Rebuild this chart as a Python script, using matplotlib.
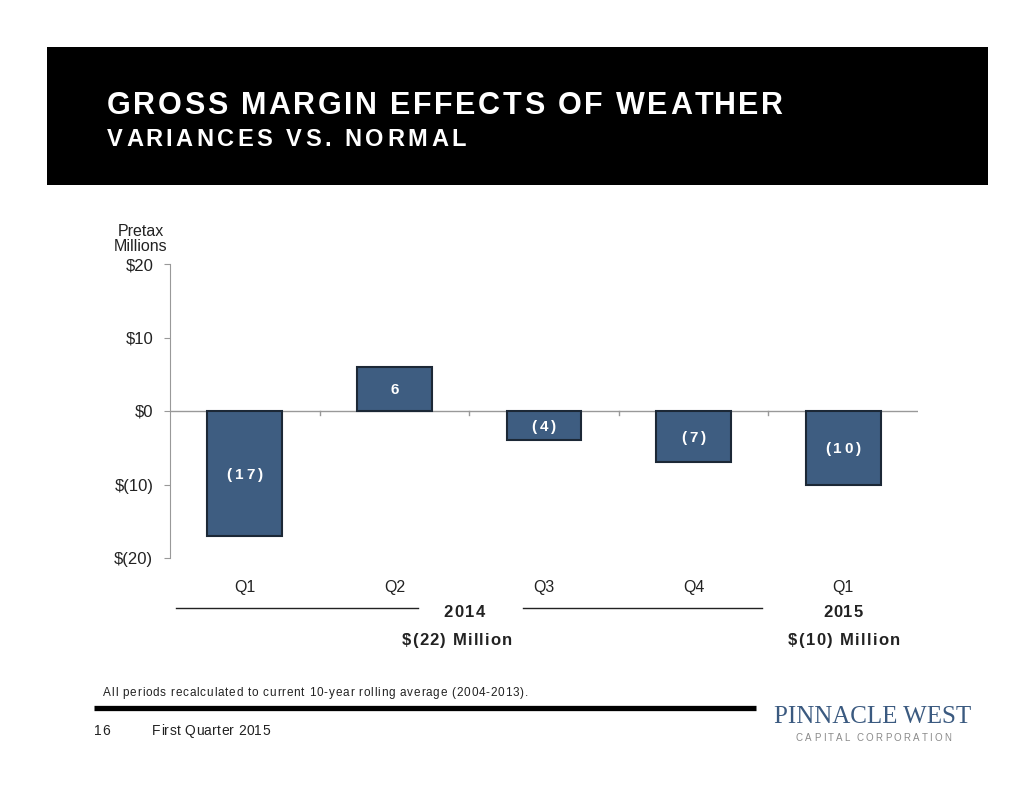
import matplotlib
matplotlib.use("Agg")
import matplotlib.pyplot as plt
from matplotlib.patches import Rectangle
from matplotlib.lines import Line2D
from matplotlib.font_manager import FontProperties

plt.rcParams['font.family'] = ['Liberation Sans', 'DejaVu Sans']

categories = ["Q1", "Q2", "Q3", "Q4", "Q1"]
values = [-17, 6, -4, -7, -10]
bar_labels = ["(17)", "6", "(4)", "(7)", "(10)"]
yticks = [-20, -10, 0, 10, 20]
ytick_labels = ["$(20)", "$(10)", "$0", "$10", "$20"]
years = ["2014", "2015"]
year_totals = ["$(22) Million", "$(10) Million"]

W, H = 1034, 799
DPI = 100
fig = plt.figure(figsize=(W / DPI, H / DPI), dpi=DPI)
fig.patch.set_facecolor("white")
renderer = fig.canvas.get_renderer()
TXT = "#222222"


def fx(px):
    return px / W


def fy(py):
    return 1 - py / H


def width_px(s, fp):
    if not s:
        return 0.0
    return renderer.get_text_width_height_descent(s, fp, ismath=False)[0]


def prefix_px(s, i, fp):
    if i == 0:
        return 0.0
    return width_px(s[:i] + "x", fp) - width_px("x", fp)


def tracked(s, x0, baseline, size, weight="normal", color=TXT, x1=None, track=None,
            ha="left", family=None):
    """Draw s char by char; positions in pixels (top-down y)."""
    fp = FontProperties(family=family or ['Liberation Sans', 'DejaVu Sans'], size=size, weight=weight)
    nat = width_px(s, fp)
    n = len(s)
    if x1 is not None:
        track = (x1 - x0 - nat) / max(n - 1, 1)
    if track is None:
        track = 0.0
    total = nat + track * (n - 1)
    start = x0 - total / 2 if ha == "center" else x0
    for i, ch in enumerate(s):
        if ch == " ":
            continue
        xp = start + prefix_px(s, i, fp) + i * track
        fig.text(fx(xp), fy(baseline), ch, fontproperties=fp, color=color,
                 ha="left", va="baseline", zorder=5)


# Header black box
fig.patches.append(Rectangle((fx(47), fy(185)), fx(988) - fx(47), fy(47) - fy(185),
                             transform=fig.transFigure, facecolor="black", edgecolor="none", zorder=0))
tracked("GROSS MARGIN EFFECTS OF WEATHER", 107, 114, 22, "bold", "white", x1=783)
tracked("VARIANCES VS. NORMAL", 107, 146, 17, "bold", "white", x1=466)

# Axes
ax = fig.add_axes([fx(170), fy(558), fx(918) - fx(170), fy(264) - fy(558)])
x = list(range(len(categories)))
bars = ax.bar(x, values, width=0.5, color="#3e5d81", edgecolor="#1c2836", linewidth=1.5, zorder=3)

ax.set_xlim(-0.5, len(categories) - 0.5)
ax.set_ylim(-20, 20)
ax.set_yticks(yticks)
ax.set_yticklabels(ytick_labels, fontsize=12)
for s in ["top", "right", "bottom"]:
    ax.spines[s].set_visible(False)
ax.spines["left"].set_color("#999999")
ax.tick_params(axis="y", length=4, color="#999999", pad=8, labelcolor=TXT)
ax.set_xticks([])
ax.axhline(0, color="#999999", linewidth=1, zorder=2)
for b in [0.5, 1.5, 2.5, 3.5]:
    ax.plot([b, b], [0, -0.6], color="#999999", linewidth=1, zorder=2)

# Bar value labels (letter-spaced, centred in bars)
lab_size = 11
cap = 0.716 * lab_size * DPI / 72
for b, lab, v in zip(bars, bar_labels, values):
    cx_disp, cy_disp = ax.transData.transform((b.get_x() + b.get_width() / 2, v / 2))
    cx = cx_disp
    cy = H - cy_disp
    tracked(lab, cx, cy + cap / 2, lab_size, "bold", "white", track=3, ha="center")

# Category labels below axis
for xi, c in zip(x, categories):
    cx_disp, _ = ax.transData.transform((xi, 0))
    fig.text(fx(cx_disp), fy(592), c, ha="center", va="baseline", fontsize=11.5, color=TXT)

fig.text(fx(141), fy(239), "Pretax\nMillions", ha="center", va="center", fontsize=11.5,
         color=TXT, linespacing=1.05)

# Year separators
fig.lines.append(Line2D([fx(176), fx(418)], [fy(608), fy(608)], transform=fig.transFigure,
                        color=TXT, linewidth=1))
fig.lines.append(Line2D([fx(523), fx(762)], [fy(608), fy(608)], transform=fig.transFigure,
                        color=TXT, linewidth=1))
tracked(years[0], 443, 617, 12, "bold", x1=485)
tracked(years[1], 823, 617, 12, "bold", x1=863)
tracked(year_totals[0], 402, 645, 12, "bold", x1=512)
tracked(year_totals[1], 788, 645, 12, "bold", x1=900)

# Footnote
tracked("All periods recalculated to current 10-year rolling average (2004-2013).",
        103, 696, 8.5, x1=528)

# Footer
fig.lines.append(Line2D([fx(94), fx(756)], [fy(707.5), fy(707.5)], transform=fig.transFigure,
                        color="black", linewidth=3.8, solid_capstyle="butt"))
tracked("16", 94, 735, 10, x1=110)
tracked("First Quarter 2015", 152, 735, 10, x1=270)
fig.text(fx(873), fy(717), "PINNACLE WEST", ha="center", va="center", fontsize=18,
         family=["Liberation Serif", "DejaVu Serif"], color="#3b5a80")
tracked("CAPITAL CORPORATION", 796, 741, 7, color="#8a8a8a", x1=951)

fig.savefig("out.png", dpi=DPI)
